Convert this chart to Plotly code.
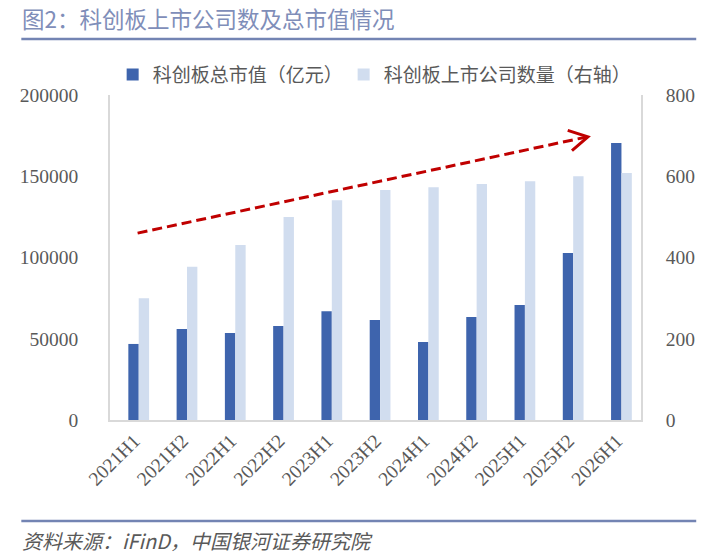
import plotly.graph_objects as go

# 科创板上市公司数及总市值
periods = ["2021H1", "2021H2", "2022H1", "2022H2", "2023H1", "2023H2",
           "2024H1", "2024H2", "2025H1", "2025H2", "2026H1"]
market_cap = [46800, 56000, 53500, 57800, 67000, 61500,
              48000, 63400, 70800, 102800, 170500]   # 亿元
company_count = [300, 377, 431, 500, 541, 566,
                 573, 581, 588, 600, 608]          # 家（右轴）

left_ticks = [0, 50000, 100000, 150000, 200000]
right_ticks = [0, 200, 400, 600, 800]

DARK = "#3E64AD"
LIGHT = "#D1DDEF"
RED = "#C00000"
RULE = "#7384B3"
TICK_FONT = dict(family="Liberation Serif, Noto Sans CJK SC", size=19.5, color="#595959")
LEGEND_FONT = dict(family="Noto Sans CJK SC", size=19, color="#595959")

fig = go.Figure()
fig.add_trace(go.Bar(
    x=periods, y=market_cap, name="科创板总市值（亿元）",
    marker=dict(color=DARK, line=dict(width=0)),
    offset=-0.12, width=0.215, yaxis="y", legend="legend",
))
fig.add_trace(go.Bar(
    x=periods, y=company_count, name="科创板上市公司数量（右轴）",
    marker=dict(color=LIGHT, line=dict(width=0)),
    offset=0.095, width=0.215, yaxis="y2", legend="legend2",
))

# 趋势箭头（红色虚线）
fig.add_shape(type="line", xref="paper", yref="paper",
              x0=0.052, y0=0.575, x1=0.898, y1=0.871,
              line=dict(color=RED, width=3, dash="10px,5px"))
fig.add_shape(type="path", xref="paper", yref="paper",
              path="M 0.862 0.891 L 0.900 0.871 L 0.870 0.829",
              line=dict(color=RED, width=3))

# 标题、分隔线、来源
fig.add_annotation(text="图2：科创板上市公司数及总市值情况", xref="paper", yref="paper",
                   x=-0.17, y=1.237, xanchor="left", yanchor="middle", showarrow=False,
                   font=dict(family="Noto Sans CJK SC", size=22.5, color="#7F8EB9"))
fig.add_shape(type="line", xref="paper", yref="paper",
              x0=-0.167, x1=1.104, y0=1.172, y1=1.172,
              line=dict(color=RULE, width=2.5))
fig.add_shape(type="line", xref="paper", yref="paper",
              x0=-0.167, x1=1.104, y0=-0.311, y1=-0.311,
              line=dict(color=RULE, width=2.5))
fig.add_annotation(text="<i>资料来源：iFinD，中国银河证券研究院</i>", xref="paper", yref="paper",
                   x=-0.17, y=-0.372, xanchor="left", yanchor="middle", showarrow=False,
                   font=dict(family="Noto Sans CJK SC", size=20, color="#595959"))

# 页面自带 8px 边距，图幅相应缩小
fig.update_layout(
    width=700, height=550,
    margin=dict(l=94, r=67, t=87, b=138),
    paper_bgcolor="white", plot_bgcolor="white",
    barmode="overlay",
    showlegend=True,
    legend=dict(orientation="h", x=0.005, y=1.063, xanchor="left", yanchor="middle",
                font=LEGEND_FONT, itemwidth=30, bgcolor="rgba(0,0,0,0)"),
    legend2=dict(orientation="h", x=0.44, y=1.063, xanchor="left", yanchor="middle",
                 font=LEGEND_FONT, itemwidth=30, bgcolor="rgba(0,0,0,0)"),
    xaxis=dict(type="category", range=[-0.5, len(periods) - 0.5],
               tickangle=-45, tickfont=TICK_FONT,
               showline=True, linecolor="#D9D9D9", linewidth=1.5, mirror=False,
               ticks="", showgrid=False),
    yaxis=dict(range=[0, 200000], tickvals=left_ticks, tickformat="d",
               tickfont=TICK_FONT, showgrid=False, zeroline=False,
               showline=True, linecolor="#D9D9D9", linewidth=1.5, ticks="",
               ticklabelstandoff=26),
    yaxis2=dict(range=[0, 800], tickvals=right_ticks, overlaying="y", side="right",
                tickfont=TICK_FONT, showgrid=False, zeroline=False,
                showline=True, linecolor="#D9D9D9", linewidth=1.5, ticks="",
                ticklabelstandoff=19),
)

fig.write_html("out.html")
